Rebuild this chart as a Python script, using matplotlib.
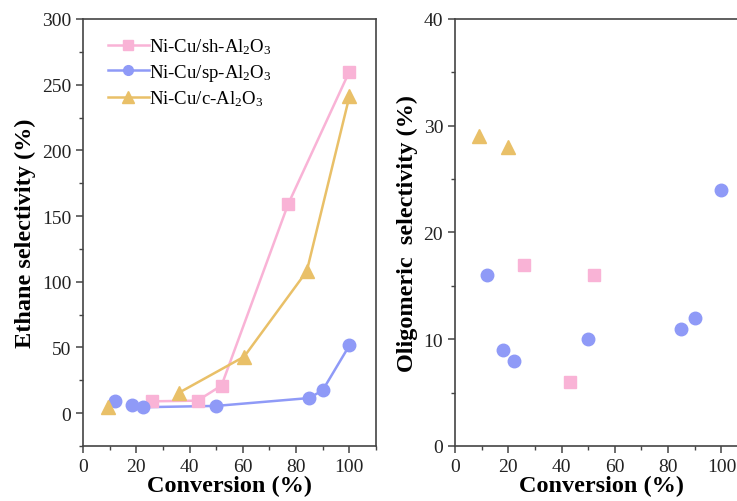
import matplotlib
matplotlib.use("Agg")
import matplotlib.pyplot as plt
from matplotlib.ticker import MultipleLocator

plt.rcParams['font.family'] = 'Liberation Serif'
plt.rcParams['mathtext.fontset'] = 'custom'
plt.rcParams['mathtext.rm'] = 'Liberation Serif'
plt.rcParams['mathtext.it'] = 'Liberation Serif:italic'
plt.rcParams['mathtext.bf'] = 'Liberation Serif:bold'

# ethane selectivity vs conversion
sh_conv = [26, 43, 52, 77, 100]
sh_ethane = [9, 9.5, 21, 159, 260]
sp_conv = [12, 18.5, 22.5, 50, 85, 90, 100]
sp_ethane = [9.5, 6.5, 4.5, 5.5, 11.5, 17.5, 51.5]
c_conv = [9.5, 36, 60.5, 84, 100]
c_ethane = [4.5, 15.5, 43, 108, 241]
# first points in each series are not joined by the line
sp_line_start = 2
c_line_start = 1

# oligomeric selectivity vs conversion
sh_conv2 = [26, 43, 52]
sh_olig = [17, 6, 16]
sp_conv2 = [12, 18, 22, 50, 85, 90, 100]
sp_olig = [16, 9, 8, 10, 11, 12, 24]
c_conv2 = [9, 20]
c_olig = [29, 28]

labels = ['Ni-Cu/sh-Al$_2$O$_3$', 'Ni-Cu/sp-Al$_2$O$_3$', 'Ni-Cu/c-Al$_2$O$_3$']
pink = '#F9B3D6'
blue = '#8F9AF7'
gold = '#E9C068'

fig = plt.figure(figsize=(7.37, 5.02), dpi=100)
ax1 = fig.add_axes([0.1126, 0.1096, 0.3976, 0.8506])
ax2 = fig.add_axes([0.6174, 0.1096, 0.3976, 0.8506])

lw = 1.8
# left panel: lines then markers so unconnected points still show
ax1.plot(sh_conv, sh_ethane, color=pink, lw=lw, zorder=2)
ax1.plot(sp_conv[sp_line_start:], sp_ethane[sp_line_start:], color=blue, lw=lw, zorder=2)
ax1.plot(c_conv[c_line_start:], c_ethane[c_line_start:], color=gold, lw=lw, zorder=2)
ax1.plot(sh_conv, sh_ethane, 's', color=pink, ms=8, zorder=3)
ax1.plot(sp_conv, sp_ethane, 'o', color=blue, ms=9, zorder=3)
ax1.plot(c_conv, c_ethane, '^', color=gold, ms=10, zorder=3)

# legend handles
h1, = ax1.plot([], [], '-s', color=pink, lw=lw, ms=7, label=labels[0])
h2, = ax1.plot([], [], '-o', color=blue, lw=lw, ms=7, label=labels[1])
h3, = ax1.plot([], [], '-^', color=gold, lw=lw, ms=8, label=labels[2])
ax1.legend(handles=[h1, h2, h3], loc='upper left', frameon=False, fontsize=13.5,
           handlelength=2.2, handletextpad=0.0, labelspacing=0.3,
           borderaxespad=0.3, bbox_to_anchor=(0.04, 0.99))

ax1.set_xlim(0, 110)
ax1.set_ylim(-25, 300)
ax1.xaxis.set_major_locator(MultipleLocator(20))
ax1.xaxis.set_minor_locator(MultipleLocator(10))
ax1.yaxis.set_major_locator(MultipleLocator(50))
ax1.yaxis.set_minor_locator(MultipleLocator(25))
ax1.set_xlabel('Conversion (%)', fontsize=17.5, fontweight='bold', labelpad=0)
ax1.set_ylabel('Ethane selectivity (%)', fontsize=17.5, fontweight='bold', labelpad=4)

# right panel: scatter only
ax2.plot(sh_conv2, sh_olig, 's', color=pink, ms=8)
ax2.plot(sp_conv2, sp_olig, 'o', color=blue, ms=9)
ax2.plot(c_conv2, c_olig, '^', color=gold, ms=10)
ax2.set_xlim(0, 110)
ax2.set_ylim(0, 40)
ax2.xaxis.set_major_locator(MultipleLocator(20))
ax2.xaxis.set_minor_locator(MultipleLocator(10))
ax2.yaxis.set_major_locator(MultipleLocator(10))
ax2.yaxis.set_minor_locator(MultipleLocator(5))
ax2.set_xlabel('Conversion (%)', fontsize=17.5, fontweight='bold', labelpad=0)
ax2.set_ylabel('Oligomeric  selectivity (%)', fontsize=17.5, fontweight='bold', labelpad=4)

for ax in (ax1, ax2):
    for sp in ax.spines.values():
        sp.set_color('#444444')
        sp.set_linewidth(1.2)
    ax.tick_params(which='major', direction='out', length=5, width=1.1,
                   labelsize=14, colors='#444444', labelcolor='#222222')
    ax.tick_params(which='minor', direction='out', length=3, width=1.0, colors='#444444')

fig.savefig('out.png', dpi=100)
